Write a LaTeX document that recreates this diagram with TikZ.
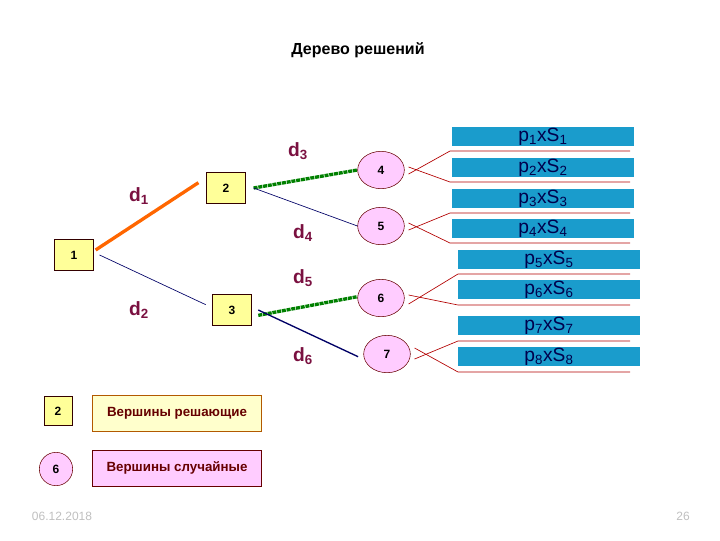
\documentclass[tikz,border=0pt]{standalone}
\usepackage{fontspec}
\setmainfont{Liberation Sans}
\usetikzlibrary{shapes.geometric}
\definecolor{bar}{HTML}{1A9CCC}
\definecolor{dlab}{HTML}{7A1040}
\definecolor{ybox}{HTML}{FFFF99}
\definecolor{pk}{HTML}{FFCCFF}
\begin{document}
\begin{tikzpicture}[x=0.75pt,y=-0.75pt,
 dec/.style={draw=black!80!red,fill=ybox,minimum width=29pt,minimum height=23pt,inner sep=0pt,font=\bfseries\small},
 chc/.style={ellipse,draw=black!60!red,fill=pk,minimum width=35pt,minimum height=28pt,inner sep=0pt,font=\bfseries\small},
 dl/.style={text=dlab,font=\bfseries\Large},
 pbar/.style={fill=bar,minimum width=137pt,minimum height=14pt,inner sep=0pt,text=black!70!blue,font=\Large},
 leaf/.style={draw=red!70!black,line width=0.5pt}]
\useasboundingbox (0,0) rectangle (720,540);
\node[font=\bfseries\large] (t) at (358,50) {Дерево решений};
\node[dec] (n1) at (74,255) {1};
\node[dec] (n2) at (226,188) {2};
\node[dec] (n3) at (232,310) {3};
\node[chc] (n4) at (381,170) {4};
\node[chc] (n5) at (381,226) {5};
\node[chc] (n6) at (381,298) {6};
\node[chc] (n7) at (387,354) {7};
\draw[orange!80!red,line width=2.5pt] (n1.east) ++(2,-5) -- ([xshift=-6pt,yshift=4pt]n2.west);
\draw[blue!40!black,line width=0.5pt] (n1.east)++(6,0) -- ([xshift=-5pt,yshift=4pt]n3.west);
\draw[green!50!black,line width=2.5pt,dash pattern=on 3pt off 0.6pt] ([xshift=6pt]n2.east) -- (n4.west);
\draw[blue!40!black,line width=0.5pt] ([xshift=6pt]n2.east) -- (n5.west);
\draw[green!50!black,line width=2.5pt,dash pattern=on 3pt off 0.6pt] ([xshift=5pt,yshift=-4pt]n3.east) -- ([yshift=1pt]n6.west);
\draw[blue!40!black,line width=1pt] ([xshift=5pt]n3.east) -- ([xshift=-4pt,yshift=-2pt]n7.west);
\node[dl] (d3) at (298,151) {d\textsubscript{3}};
\node[dl] (d1) at (139,196) {d\textsubscript{1}};
\node[dl] (d4) at (303,233) {d\textsubscript{4}};
\node[dl] (d2) at (139,310) {d\textsubscript{2}};
\node[dl] (d5) at (303,278) {d\textsubscript{5}};
\node[dl] (d6) at (303,356) {d\textsubscript{6}};
\foreach \i/\x/\y in {1/543/136.5,2/543/167.5,3/543/198.5,4/543/228.5,5/549/259.5,6/549/289.5,7/549/325.5,8/549/356.5}
  \node[pbar] (b\i) at (\x,\y) {p\textsubscript{\i}xS\textsubscript{\i}};
\foreach \n/\dy/\sx/\y in {4/-4/450/151,4/3/450/182,5/-4/450/213,5/3/450/243,6/-6/458/274,6/3/458/305,7/-5/458/341,7/6/458/372}{
  \coordinate (s) at (\sx,\y);
  \coordinate (e) at (630,\y);
  \draw[leaf] ([xshift=3pt,yshift=\dy*0.75pt]n\n.east) -- (s) -- (e);
}
\node[dec,minimum width=21pt,minimum height=22pt] (l1) at (58,411) {2};
\node[draw=orange!70!black,fill=ybox!50,minimum width=127pt,minimum height=27pt,inner sep=0pt,text=black!60!red,font=\bfseries] (lt1) at (177,413) {Вершины решающие};
\node[circle,draw=black!60!red,fill=pk,minimum size=25pt,inner sep=0pt,font=\bfseries\small] (l2) at (56,469) {6};
\node[draw=black!60!red,fill=pk,minimum width=127pt,minimum height=27pt,inner sep=0pt,text=black!60!red,font=\bfseries] (lt2) at (177,468) {Вершины случайные};
\node[text=black!25,font=\small] (dt) at (62,516) {06.12.2018};
\node[text=black!25,font=\small] (pg) at (683,516) {26};
\end{tikzpicture}
\end{document}
